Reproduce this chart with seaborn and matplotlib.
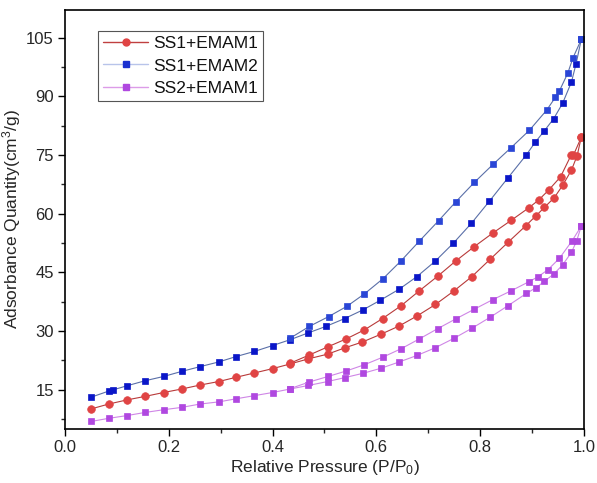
import matplotlib
matplotlib.use("Agg")
import matplotlib.pyplot as plt
import seaborn as sns
import pandas as pd
from matplotlib.ticker import AutoMinorLocator
from matplotlib.lines import Line2D

# ---------------- data ----------------
labels = ["SS1+EMAM1", "SS1+EMAM2", "SS2+EMAM1"]

# SS1+EMAM1 (red)
r_ads_p = [0.050, 0.084, 0.119, 0.154, 0.190, 0.225, 0.260, 0.296, 0.330, 0.365, 0.400, 0.434,
           0.469, 0.506, 0.539, 0.573, 0.609, 0.644, 0.679, 0.714, 0.749, 0.784, 0.819, 0.854,
           0.888, 0.908, 0.924, 0.943, 0.959, 0.976, 0.987, 0.995]
r_ads_q = [10.1, 11.35, 12.4, 13.3, 14.3, 15.2, 16.2, 17.1, 18.2, 19.3, 20.4, 21.6,
           22.9, 24.1, 25.7, 27.2, 29.2, 31.3, 33.9, 36.8, 40.2, 43.9, 48.3, 52.7,
           56.9, 59.5, 61.6, 64.1, 67.2, 71.1, 74.8, 79.5]
r_des_p = [0.995, 0.980, 0.976, 0.955, 0.932, 0.913, 0.894, 0.860, 0.824, 0.789, 0.753, 0.719,
           0.683, 0.648, 0.612, 0.577, 0.542, 0.507, 0.471, 0.434]
r_des_q = [79.5, 75.0, 75.1, 69.4, 66.0, 63.5, 61.5, 58.3, 55.0, 51.6, 47.9, 44.1,
           40.3, 36.5, 33.2, 30.3, 28.0, 26.0, 23.9, 21.8]

# SS1+EMAM2 (blue)
b_ads_p = [0.050, 0.085, 0.093, 0.119, 0.154, 0.190, 0.225, 0.260, 0.296, 0.330, 0.365, 0.400,
           0.434, 0.468, 0.503, 0.539, 0.574, 0.608, 0.644, 0.678, 0.713, 0.748, 0.783, 0.818,
           0.854, 0.889, 0.906, 0.924, 0.942, 0.959, 0.976, 0.985, 0.995]
b_ads_q = [13.1, 14.7, 15.0, 16.0, 17.3, 18.4, 19.7, 20.9, 22.1, 23.5, 24.8, 26.3,
           27.8, 29.5, 31.2, 33.2, 35.4, 37.9, 40.7, 43.9, 47.8, 52.4, 57.5, 63.2,
           69.2, 75.0, 78.2, 81.2, 84.3, 88.2, 93.6, 98.3, 104.5]
b_des_p = [0.995, 0.979, 0.969, 0.953, 0.945, 0.928, 0.895, 0.860, 0.825, 0.789, 0.753, 0.720,
           0.683, 0.648, 0.613, 0.577, 0.543, 0.508, 0.471, 0.434]
b_des_q = [104.5, 99.8, 95.9, 91.4, 89.7, 86.4, 81.3, 76.9, 72.6, 68.0, 63.0, 58.2,
           53.0, 48.0, 43.4, 39.5, 36.3, 33.7, 31.2, 28.2]

# SS2+EMAM1 (magenta)
m_ads_p = [0.050, 0.084, 0.119, 0.154, 0.190, 0.225, 0.260, 0.296, 0.330, 0.365, 0.400, 0.434,
           0.469, 0.506, 0.539, 0.574, 0.609, 0.644, 0.679, 0.713, 0.749, 0.784, 0.819, 0.854,
           0.889, 0.908, 0.924, 0.943, 0.959, 0.976, 0.986, 0.995]
m_ads_q = [6.9, 7.7, 8.4, 9.2, 9.9, 10.5, 11.35, 11.9, 12.7, 13.5, 14.3, 15.2,
           16.1, 17.1, 18.1, 19.2, 20.5, 22.1, 23.8, 25.7, 28.1, 30.7, 33.5, 36.5,
           39.6, 41.1, 42.7, 44.7, 46.9, 50.1, 53.0, 56.8]
m_des_p = [0.995, 0.977, 0.953, 0.931, 0.912, 0.894, 0.860, 0.824, 0.789, 0.753, 0.718, 0.683,
           0.648, 0.612, 0.577, 0.542, 0.507, 0.471, 0.434]
m_des_q = [56.8, 53.0, 48.6, 45.7, 43.9, 42.6, 40.3, 38.0, 35.6, 33.1, 30.6, 28.0,
           25.5, 23.3, 21.4, 19.8, 18.4, 17.0, 15.3]

x_ticks = [0.0, 0.2, 0.4, 0.6, 0.8, 1.0]
y_ticks = [15, 30, 45, 60, 75, 90, 105]

# ---------------- style ----------------
sns.set_theme(style="ticks")
plt.rcParams["font.family"] = ["Liberation Sans", "DejaVu Sans"]
plt.rcParams["mathtext.fontset"] = "custom"
plt.rcParams["mathtext.rm"] = "Liberation Sans"
plt.rcParams["mathtext.it"] = "Liberation Sans"

text_col = "#262626"

fig = plt.figure(figsize=(5.97, 4.83), dpi=100)
ax = fig.add_axes([0.109, 0.112, 0.869, 0.867])

series = [
    (r_ads_p, r_ads_q, r_des_p, r_des_q, "#b83a3a", "#e04444", "#e04444", "o", 5.5),
    (b_ads_p, b_ads_q, b_des_p, b_des_q, "#5a6fa8", "#0a16c8", "#2a46d6", "s", 5.0),
    (m_ads_p, m_ads_q, m_des_p, m_des_q, "#cf86e6", "#b048e0", "#b048e0", "s", 5.0),
]

for lab, (ap, aq, dp, dq, lc, mca, mcd, mk, ms) in zip(labels, series):
    df_a = pd.DataFrame({"P": ap, "Q": aq})
    df_d = pd.DataFrame({"P": dp, "Q": dq})
    sns.lineplot(data=df_a, x="P", y="Q", ax=ax, sort=False, estimator=None,
                 color=lc, lw=0.8, marker=mk, markersize=ms,
                 markerfacecolor=mca, markeredgecolor=mca, markeredgewidth=0.5)
    sns.lineplot(data=df_d, x="P", y="Q", ax=ax, sort=False, estimator=None,
                 color=lc, lw=0.8, marker=mk, markersize=ms,
                 markerfacecolor=mcd, markeredgecolor=mcd, markeredgewidth=0.5)

handles = [
    Line2D([], [], color="#c04040", lw=1.0, marker="o", markersize=5, markerfacecolor="#e04444", markeredgecolor="#e04444"),
    Line2D([], [], color="#b8c4ea", lw=1.0, marker="s", markersize=4, markerfacecolor="#1a30d0", markeredgecolor="#1a30d0"),
    Line2D([], [], color="#dc9ce8", lw=1.0, marker="s", markersize=4, markerfacecolor="#b048e0", markeredgecolor="#b048e0"),
]
leg = ax.legend(handles, labels, loc="upper left", bbox_to_anchor=(0.063, 0.95),
                fontsize=12.5, frameon=True, fancybox=False, framealpha=1,
                edgecolor="#555555", handlelength=2.6, handletextpad=0.3,
                labelspacing=0.4, borderpad=0.3, borderaxespad=0)
leg.get_frame().set_linewidth(0.8)
for t in leg.get_texts():
    t.set_color("#111111")

ax.set_xlim(0.0, 1.0)
ax.set_ylim(5, 112)
ax.set_xticks(x_ticks)
ax.set_xticklabels([f"{v:.1f}" for v in x_ticks])
ax.set_yticks(y_ticks)
ax.set_yticklabels([str(v) for v in y_ticks])
ax.xaxis.set_minor_locator(AutoMinorLocator(2))
ax.yaxis.set_minor_locator(AutoMinorLocator(2))
ax.tick_params(axis="both", which="major", direction="out", length=5, width=1.0,
               labelsize=12, color="black", labelcolor=text_col, top=False, right=False, pad=3)
ax.tick_params(axis="both", which="minor", direction="out", length=3, width=1.0,
               top=False, right=False)
for s in ax.spines.values():
    s.set_linewidth(1.2)
    s.set_color("black")

ax.set_xlabel("Relative Pressure (P/P$_0$)", fontsize=12.5, labelpad=2, color=text_col)
ax.set_ylabel("Adsorbance Quantity(cm$^3$/g)", fontsize=12.5, labelpad=2, color=text_col)
ax.grid(False)

fig.savefig("out.png", dpi=100)
